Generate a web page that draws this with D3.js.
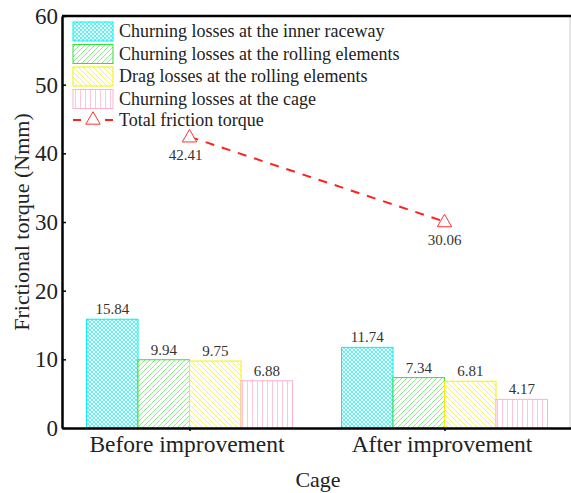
<!DOCTYPE html>
<html>
<head>
<meta charset="utf-8">
<script src="https://cdn.jsdelivr.net/npm/d3@7"></script>
<style>
  body { margin: 0; background: #fff; }
  text { font-family: "Liberation Serif", "Times New Roman", serif; }
</style>
</head>
<body>
<svg id="chart" width="571" height="493"></svg>
<script>
// chart values
const groups = ["Before improvement", "After improvement"];
const seriesNames = [
  "Churning losses at the inner raceway",
  "Churning losses at the rolling elements",
  "Drag losses at the rolling elements",
  "Churning losses at the cage"
];
const innerRaceway = [15.84, 11.74];
const rollingChurn = [9.94, 7.34];
const rollingDrag = [9.75, 6.81];
const cageChurn = [6.88, 4.17];
const totalTorque = [42.41, 30.06];
const yTicks = [0, 10, 20, 30, 40, 50, 60];

const seriesValues = [innerRaceway, rollingChurn, rollingDrag, cageChurn];
const colors = ["#00f0f0", "#33e033", "#f5f000", "#ffb0cc"];

const svg = d3.select("#chart");
const plotLeft = 62, plotRight = 572, plotTop = 16, plotBottom = 428;

const y = d3.scaleLinear().domain([0, 60]).range([plotBottom, plotTop]);
const x = d3.scalePoint().domain(groups).range([plotLeft, plotRight]).padding(0.5);
const inner = d3.scaleBand().domain(seriesNames).range([-103, 103]).padding(0);

// patterns
const defs = svg.append("defs");
function makePattern(id, color, size, paths, width) {
  const p = defs.append("pattern")
    .attr("id", id)
    .attr("patternUnits", "userSpaceOnUse")
    .attr("width", size).attr("height", size);
  p.append("rect").attr("width", size).attr("height", size).attr("fill", "#fff");
  paths.forEach(d => {
    p.append("path").attr("d", d).attr("stroke", color)
      .attr("stroke-width", width).attr("fill", "none");
  });
}
makePattern("pat0", "#40f4f4", 4, ["M0,0 L4,4", "M4,0 L0,4", "M-1,3 L1,5", "M3,-1 L5,1"], 0.9);
makePattern("pat1", "#70e870", 5, ["M0,5 L5,0", "M-1,1 L1,-1", "M4,6 L6,4"], 0.8);
makePattern("pat2", "#f5f040", 5, ["M0,0 L5,5", "M-1,4 L1,6", "M4,-1 L6,1"], 0.8);
makePattern("pat3", "#ffc0d4", 5, ["M2.5,0 L2.5,5"], 0.9);

// bars
const barData = [];
seriesNames.forEach((s, si) => {
  groups.forEach((g, gi) => {
    barData.push({ group: g, series: s, si: si, value: seriesValues[si][gi] });
  });
});

svg.selectAll("rect.bar")
  .data(barData)
  .enter()
  .append("rect")
  .attr("class", "bar")
  .attr("x", d => x(d.group) + inner(d.series))
  .attr("y", d => y(d.value))
  .attr("width", inner.bandwidth())
  .attr("height", d => y(0) - y(d.value))
  .attr("fill", d => "url(#pat" + d.si + ")")
  .attr("stroke", d => colors[d.si])
  .attr("stroke-width", 1);

svg.selectAll("text.val")
  .data(barData)
  .enter()
  .append("text")
  .attr("class", "val")
  .attr("x", d => x(d.group) + inner(d.series) + inner.bandwidth() / 2)
  .attr("y", d => y(d.value) - 5)
  .attr("text-anchor", "middle")
  .style("font-size", "15px")
  .attr("fill", "#333")
  .text(d => d.value.toFixed(2));

// total friction line
const line = d3.line().x((d, i) => x(groups[i])).y(d => y(d));
svg.append("path")
  .datum(totalTorque)
  .attr("d", line)
  .attr("fill", "none")
  .attr("stroke", "#ff2020")
  .attr("stroke-width", 2)
  .attr("stroke-dasharray", "9,8");

const tri = d3.symbol().type(d3.symbolTriangle).size(90);
svg.selectAll("path.tri")
  .data(totalTorque)
  .enter()
  .append("path")
  .attr("class", "tri")
  .attr("d", tri)
  .attr("transform", (d, i) => "translate(" + x(groups[i]) + "," + (y(d) + 1) + ")")
  .attr("fill", "#fff")
  .attr("stroke", "#ff3030")
  .attr("stroke-width", 1);

svg.selectAll("text.tot")
  .data(totalTorque)
  .enter()
  .append("text")
  .attr("class", "tot")
  .attr("x", (d, i) => x(groups[i]) - (i == 0 ? 4 : 0))
  .attr("y", d => y(d) + 23)
  .attr("text-anchor", "middle")
  .style("font-size", "15px")
  .attr("fill", "#333")
  .text(d => d.toFixed(2));

// frame
svg.append("line").attr("x1", plotRight - 2).attr("x2", plotRight - 2).attr("y1", plotTop).attr("y2", plotBottom)
  .attr("stroke", "#ccc").attr("stroke-width", 1);
svg.append("line").attr("x1", plotLeft).attr("x2", plotRight).attr("y1", plotTop).attr("y2", plotTop)
  .attr("stroke", "#000").attr("stroke-width", 2.5);

// axes
const yAxis = d3.axisLeft(y).tickValues(yTicks).tickSizeInner(-4).tickSizeOuter(0).tickPadding(4);
const gy = svg.append("g").attr("transform", "translate(" + plotLeft + ",0)").call(yAxis);
gy.select(".domain").attr("stroke-width", 2.5);
gy.selectAll(".tick line").attr("stroke-width", 1.5);
gy.selectAll("text").style("font-size", "23px").attr("fill", "#222");

const xAxis = d3.axisBottom(x).tickSizeInner(3).tickSizeOuter(0).tickPadding(4);
const gx = svg.append("g").attr("transform", "translate(0," + plotBottom + ")").call(xAxis);
gx.select(".domain").attr("stroke-width", 2.5);
gx.selectAll(".tick line").attr("stroke-width", 1.5);
gx.selectAll("text").style("font-size", "23.5px").attr("fill", "#222").attr("dx", -3);

// axis titles
svg.append("text")
  .attr("x", 318)
  .attr("y", 487)
  .attr("text-anchor", "middle")
  .style("font-size", "22px")
  .attr("fill", "#222")
  .text("Cage");

svg.append("text")
  .attr("transform", "rotate(-90)")
  .attr("x", -(plotTop + plotBottom) / 2)
  .attr("y", 29)
  .attr("text-anchor", "middle")
  .style("font-size", "22px")
  .attr("fill", "#222")
  .text("Frictional torque (Nmm)");

// legend
const legend = svg.append("g").attr("transform", "translate(73,22)");
seriesNames.forEach((s, i) => {
  legend.append("rect")
    .attr("x", 0).attr("y", i * 22.5)
    .attr("width", 40).attr("height", 19)
    .attr("fill", "url(#pat" + i + ")")
    .attr("stroke", colors[i]);
  legend.append("text")
    .attr("x", 46).attr("y", i * 22.5 + 15)
    .style("font-size", "18px")
    .attr("fill", "#222")
    .text(s);
});
legend.append("line")
  .attr("x1", 0).attr("x2", 40).attr("y1", 98).attr("y2", 98)
  .attr("stroke", "#ff2020").attr("stroke-width", 2)
  .attr("stroke-dasharray", "8,24");
legend.append("path")
  .attr("d", tri)
  .attr("transform", "translate(20,98)")
  .attr("fill", "#fff").attr("stroke", "#ff3030");
legend.append("text")
  .attr("x", 46).attr("y", 104)
  .style("font-size", "18px")
  .attr("fill", "#222")
  .text("Total friction torque");
</script>
</body>
</html>
